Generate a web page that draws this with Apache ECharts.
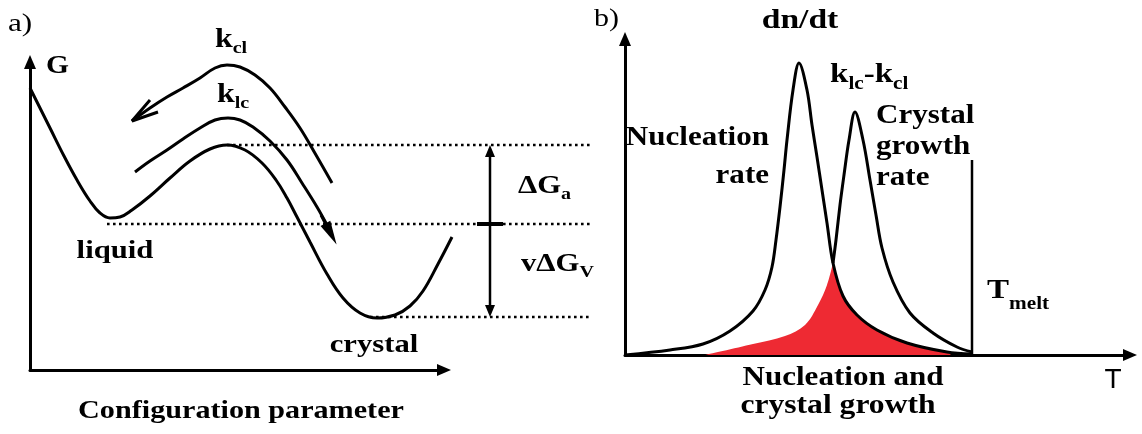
<!DOCTYPE html>
<html><head><meta charset="utf-8">
<script src="https://cdn.jsdelivr.net/npm/echarts@6/dist/echarts.min.js"></script>
<style>html,body{margin:0;padding:0;background:#fff}#c{width:1142px;height:434px}</style>
</head><body><div id="c"></div>
<script>
// ---------- Panel a: free energy G vs configuration parameter (axis units) ----------
const freeEnergy = [[0,282],[10,262],[20,242],[34,214],[47,190],[60,169],[70,157],[80,152],[90,153],[102,160],[120,174],[140,192],[160,209],[180,221],[197,225],[215,220],[232,207],[246,190],[257,172],[267,153],[280,128],[297,96],[313,72],[330,57],[347,52],[365,55],[380,64],[393,79],[408,106],[422,133]];
const kClPath = [[102,249],[120,262],[137,273],[153,282],[170,292],[185,302],[197,305],[210,303],[225,295],[240,282],[255,263],[270,242],[286,215],[302,187]];
const kClHead = [[120,270],[102,249],[128,258]];
const kLcPath = [[105,198],[120,209],[137,220],[153,231],[170,242],[185,250],[198,252],[210,250],[223,243],[240,229],[257,210],[272,187],[287,163],[297,145]];
const kLcHead = [[291,155],[301,136]];
const levelBarrier = [[197,225],[560,225]];
const levelLiquid = [[77,146],[560,146]];
const levelCrystal = [[340,53],[560,53]];
const gapArrow = [[460,59],[460,219]];
const gapTick = [[447,146],[473,146]];

// ---------- Panel b: rates vs temperature (axis units) ----------
const nucleationRate = [[0,0],[45,5],[78,11],[105,24],[128,44],[140,65],[147,88],[151,115],[155,148],[159,185],[162,215],[168,265],[174,292],[182,265],[187,230],[192,198],[197,165],[202,132],[208,92],[218,59],[232,40],[252,25],[282,12],[322,3],[347,1]];
const growthRate = [[208,92],[211,115],[215,150],[219,180],[224,215],[230,243],[238,215],[245,175],[251,140],[257,107],[268,73],[285,42],[308,22],[332,8],[347,3]];
const overlapLeft = [[80,0],[128,11],[160,19],[180,30],[193,50],[202,70],[208,92]];
const overlapRight = [[208,92],[218,59],[232,40],[252,25],[282,12],[322,3],[326,0]];
const meltLine = [[347,0],[347,195]];

const serif = '"Liberation Serif","Times New Roman",serif';
const RED = '#ee2a33';

function line(data, ax, extra) {
  return Object.assign({
    type: 'line', xAxisIndex: ax, yAxisIndex: ax, data: data, smooth: 0.4,
    symbol: 'none', clip: false, silent: true,
    lineStyle: { color: '#000', width: 3 }
  }, extra || {});
}
function dotted(data) {
  return line(data, 2, { smooth: false, lineStyle: { color: '#000', width: 2.6, type: [2.6, 3.4] } });
}
function axisPair(idx, xmax, ymax, show) {
  const al = { show: show, onZero: false, symbol: ['none', 'triangle'], symbolSize: [12, 14],
    lineStyle: { color: '#000', width: 3 } };
  const base = { type: 'value', gridIndex: idx, min: 0, axisLine: al, axisTick: { show: false },
    axisLabel: { show: false }, splitLine: { show: false } };
  return { x: Object.assign({ max: xmax }, base), y: Object.assign({ max: ymax }, base) };
}
const A = axisPair(0, 414, 308, true), B = axisPair(1, 505, 316, true), A2 = axisPair(2, 560, 308, false);

const mainRich = (fs) => ({ fontFamily: serif, fontWeight: 'bold', fontSize: fs, lineHeight: fs + 2, verticalAlign: 'top', fill: '#000' });
const subRich = (fs, pad) => ({ fontFamily: serif, fontWeight: 'bold', fontSize: fs, lineHeight: fs, padding: [pad, 0, 0, 0], verticalAlign: 'top', fill: '#000' });

function label(x, y, text, o) {
  o = o || {};
  return {
    type: 'text', x: x, y: y, silent: true, scaleX: o.sx || 1.18,
    style: Object.assign({
      text: text, fill: '#000', fontFamily: o.family || serif, fontWeight: o.weight || 'bold',
      fontSize: o.size || 26, align: o.align || 'left', verticalAlign: o.valign || 'middle'
    }, o.rich ? { rich: o.rich } : {})
  };
}
function subLabel(x, top, text, fs, sfs, pad) {
  return label(x, top, text, { valign: 'top', rich: { m: mainRich(fs), s: subRich(sfs, pad) } });
}

const option = {
  animation: false,
  backgroundColor: '#fff',
  grid: [
    { left: 30, top: 62, width: 414, height: 308 },
    { left: 625, top: 39, width: 505, height: 316 },
    { left: 30, top: 62, width: 560, height: 308 }
  ],
  xAxis: [A.x, B.x, A2.x],
  yAxis: [A.y, B.y, A2.y],
  series: [
    dotted(levelBarrier), dotted(levelLiquid), dotted(levelCrystal),
    line(freeEnergy, 2),
    line(kClPath, 2),
    line(kClHead, 2, { smooth: false }),
    line(kLcPath, 2, {
      markLine: {
        silent: true, symbol: ['none', 'triangle'], symbolSize: [11, 24],
        lineStyle: { color: '#000', width: 3, type: 'solid' }, label: { show: false },
        data: [[{ coord: kLcHead[0] }, { coord: kLcHead[1] }]]
      }
    }),
    line([
      { value: gapArrow[0], symbol: 'triangle', symbolSize: [10, 12], symbolRotate: 180 },
      { value: gapArrow[1], symbol: 'triangle', symbolSize: [10, 12] }
    ], 2, { smooth: false, showSymbol: true, itemStyle: { color: '#000' }, lineStyle: { color: '#000', width: 2.5 } }),
    line(gapTick, 2, { smooth: false, lineStyle: { color: '#000', width: 4 } }),

    line(overlapLeft, 1, { smooth: 0.35, lineStyle: { width: 0 }, areaStyle: { color: RED, opacity: 1 } }),
    line(overlapRight, 1, { smooth: 0.35, lineStyle: { width: 0 }, areaStyle: { color: RED, opacity: 1 } }),
    line(nucleationRate, 1, { smooth: 0.35 }),
    line(growthRate, 1, { smooth: 0.35 }),
    line(meltLine, 1, { smooth: false, lineStyle: { color: '#000', width: 2.5 } })
  ],
  graphic: [
    label(8, 24, 'a)', { weight: 'normal', size: 25, sx: 1.25 }),
    label(46, 67, 'G', { size: 25 }),
    subLabel(215, 27, '{m|k}{s|cl}', 27, 17, 13),
    subLabel(217, 82, '{m|k}{s|lc}', 27, 17, 13),
    subLabel(518, 173, '{m|ΔG}{s|a}', 26, 17, 13),
    subLabel(521, 251, '{m|vΔG}{s|V}', 26, 17, 13),
    label(115, 251, 'liquid', { align: 'center', size: 26 }),
    label(374, 345, 'crystal', { align: 'center', size: 26 }),
    label(241, 411, 'Configuration parameter', { align: 'center', size: 26, sx: 1.16 }),

    label(594, 19, 'b)', { weight: 'normal', size: 25, sx: 1.2 }),
    label(800, 21, 'dn/dt', { align: 'center', size: 28, sx: 1.2 }),
    label(769, 138, 'Nucleation', { align: 'right', size: 27, sx: 1.15 }),
    label(769, 176, 'rate', { align: 'right', size: 27, sx: 1.15 }),
    subLabel(830, 61, '{m|k}{s|lc}{m|-k}{s|cl}', 28, 18, 14),
    label(876, 116, 'Crystal', { size: 27, sx: 1.15 }),
    label(876, 147, 'growth', { size: 27, sx: 1.15 }),
    label(876, 178, 'rate', { size: 27, sx: 1.15 }),
    subLabel(987, 277, '{m|T}{s|melt}', 28, 18, 18),
    label(843, 378, 'Nucleation and', { align: 'center', size: 27, sx: 1.15 }),
    label(838, 406, 'crystal growth', { align: 'center', size: 27, sx: 1.17 }),
    label(1113, 380, 'T', { align: 'center', size: 28, sx: 1, weight: 'normal', family: '"Liberation Sans",Arial,sans-serif' })
  ]
};
const chart = echarts.init(document.getElementById('c'));
chart.setOption(option);
</script>
</body></html>
